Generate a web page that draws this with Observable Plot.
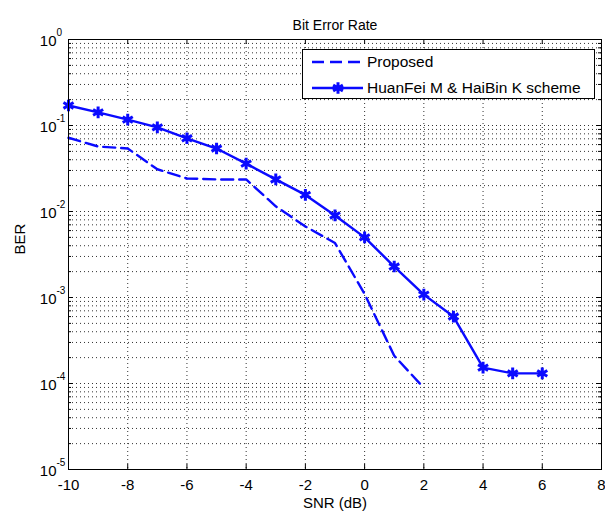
<!DOCTYPE html>
<html>
<head>
<meta charset="utf-8">
<script src="https://cdn.jsdelivr.net/npm/d3@7"></script>
<script src="https://cdn.jsdelivr.net/npm/@observablehq/plot@0.6"></script>
<style>
  html, body { margin: 0; padding: 0; background: #fff; }
  #wrap { position: relative; width: 605px; height: 513px; font-family: "Liberation Sans", Arial, sans-serif; }
  #legend { position: absolute; left: 302px; top: 49px; width: 293px; height: 50px; border: 1px solid #000; background: #fff; box-sizing: border-box; }
  #legend .row { position: absolute; left: 0; height: 20px; display: flex; align-items: center; font-size: 15.5px; color: #000; }
  #legend svg { display: block; }
</style>
</head>
<body>
<div id="wrap"></div>
<script>
// ---- data ----
const snrHuanFei = [-10, -9, -8, -7, -6, -5, -4, -3, -2, -1, 0, 1, 2, 3, 4, 5, 6];
const berHuanFei = [0.171, 0.142, 0.117, 0.095, 0.071, 0.054, 0.036, 0.0236, 0.0156, 0.0090, 0.0050, 0.00229, 0.00108, 0.00060, 0.000153, 0.000131, 0.000131];
const snrProposed = [-10, -9, -8, -7, -6, -5, -4, -3, -2, -1, 0, 1, 2];
const berProposed = [0.072, 0.057, 0.054, 0.031, 0.0242, 0.0236, 0.0236, 0.0115, 0.0067, 0.0043, 0.0011, 0.00021, 0.000089];
const xTicks = [-10, -8, -6, -4, -2, 0, 2, 4, 6, 8];
const yMajor = [1e-5, 1e-4, 1e-3, 1e-2, 1e-1, 1];
const seriesNames = ["Proposed", "HuanFei M & HaiBin K scheme"];
const titleText = "Bit Error Rate";
const xLabel = "SNR (dB)";
const yLabel = "BER";

const blue = "#0a0aff";
const huanfei = snrHuanFei.map((x, i) => ({x, y: berHuanFei[i]}));
const proposed = snrProposed.map((x, i) => ({x, y: berProposed[i]}));
const yMinor = [];
for (let e = -5; e < 0; e++) for (let m = 2; m <= 9; m++) yMinor.push(m * Math.pow(10, e));
const xGrid = xTicks.filter(d => d > -10 && d < 8);
const yGridMajor = yMajor.filter(d => d > 1e-5 && d < 1);

const W = 605, H = 513;
const mT = 39, mB = 44, mL = 68, mR = 4;
const innerH = H - mT - mB, innerW = W - mL - mR;
const dotted = {stroke: "#333", strokeWidth: 1, strokeDasharray: "1,3"};

const chart = Plot.plot({
  width: W, height: H,
  marginTop: mT, marginBottom: mB, marginLeft: mL, marginRight: mR,
  style: {fontFamily: "'Liberation Sans', Arial, sans-serif", fontSize: "14px", background: "#fff", color: "#000"},
  x: {domain: [-10, 8], axis: null},
  y: {type: "log", domain: [1e-5, 1], axis: null},
  marks: [
    // grid
    Plot.ruleY(yMinor, {y: d => d, ...dotted}),
    Plot.ruleY(yGridMajor, {y: d => d, ...dotted}),
    Plot.ruleX(xGrid, {x: d => d, ...dotted}),
    // inward ticks
    Plot.ruleX(xTicks, {x: d => d, stroke: "#000", insetTop: innerH - 5}),
    Plot.ruleX(xTicks, {x: d => d, stroke: "#000", insetBottom: innerH - 5}),
    Plot.ruleY(yMajor, {y: d => d, stroke: "#000", insetRight: innerW - 5}),
    Plot.ruleY(yMajor, {y: d => d, stroke: "#000", insetLeft: innerW - 5}),
    Plot.ruleY(yMinor, {y: d => d, stroke: "#000", insetRight: innerW - 3}),
    Plot.ruleY(yMinor, {y: d => d, stroke: "#000", insetLeft: innerW - 3}),
    // data
    Plot.line(proposed, {x: "x", y: "y", stroke: blue, strokeWidth: 2.4, strokeDasharray: "12,6"}),
    Plot.line(huanfei, {x: "x", y: "y", stroke: blue, strokeWidth: 2.4}),
    Plot.dot(huanfei, {x: "x", y: "y", symbol: "asterisk", r: 5.5, stroke: blue, strokeWidth: 3}),
    Plot.frame({stroke: "#000", strokeWidth: 1}),
    // axis labels
    Plot.axisX(xTicks, {anchor: "bottom", tickSize: 0, tickPadding: 10, fontSize: 15, label: null, tickFormat: d => String(d)}),
    Plot.text(yMajor, {y: d => d, frameAnchor: "left", dx: -12, dy: 2, textAnchor: "end", text: () => "10", fontSize: 15}),
    Plot.text(yMajor, {y: d => d, frameAnchor: "left", dx: -12, dy: -7, textAnchor: "start", text: d => String(Math.round(Math.log10(d))), fontSize: 10}),
    Plot.text([xLabel], {frameAnchor: "bottom", dy: 38, text: d => d, fontSize: 15}),
    Plot.text([yLabel], {frameAnchor: "left", dx: -48, rotate: -90, text: d => d, fontSize: 15}),
    Plot.text([titleText], {frameAnchor: "top", dy: -19, text: d => d, fontSize: 14})
  ]
});

const wrap = document.getElementById("wrap");
wrap.appendChild(chart);

// legend
const legend = document.createElement("div");
legend.id = "legend";
const rows = [
  {name: seriesNames[0], dash: "12,6", marker: false, top: 2},
  {name: seriesNames[1], dash: null, marker: true, top: 28}
];
for (const r of rows) {
  const row = document.createElement("div");
  row.className = "row";
  row.style.top = r.top + "px";
  const ns = "http://www.w3.org/2000/svg";
  const s = document.createElementNS(ns, "svg");
  s.setAttribute("width", "62"); s.setAttribute("height", "20");
  const ln = document.createElementNS(ns, "line");
  ln.setAttribute("x1", "9"); ln.setAttribute("x2", "60");
  ln.setAttribute("y1", "10"); ln.setAttribute("y2", "10");
  ln.setAttribute("stroke", blue); ln.setAttribute("stroke-width", "2.4");
  if (r.dash) ln.setAttribute("stroke-dasharray", r.dash);
  s.appendChild(ln);
  if (r.marker) {
    const p = document.createElementNS(ns, "path");
    p.setAttribute("d", d3.symbol(d3.symbolAsterisk, 90)());
    p.setAttribute("transform", "translate(35,10)");
    p.setAttribute("stroke", blue); p.setAttribute("stroke-width", "3"); p.setAttribute("fill", "none");
    s.appendChild(p);
  }
  row.appendChild(s);
  const t = document.createElement("span");
  t.textContent = r.name;
  t.style.marginLeft = "2px";
  row.appendChild(t);
  legend.appendChild(row);
}
wrap.appendChild(legend);
</script>
</body>
</html>
